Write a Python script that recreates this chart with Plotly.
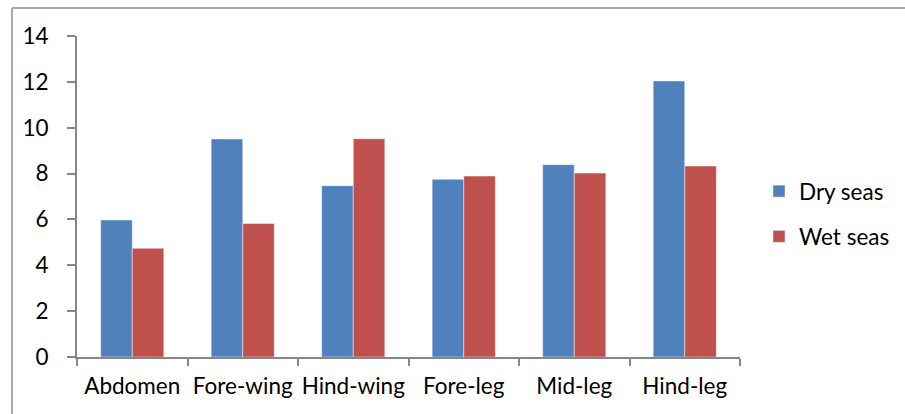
import plotly.graph_objects as go

# Body-part measurements per season
categories = ["Abdomen", "Fore-wing", "Hind-wing", "Fore-leg", "Mid-leg", "Hind-leg"]
dry_season = [5.97, 9.51, 7.47, 7.75, 8.39, 12.04]
wet_season = [4.74, 5.82, 9.52, 7.89, 8.02, 8.33]
y_ticks = [0, 2, 4, 6, 8, 10, 12, 14]

BLUE = "#4F81BD"
RED = "#C0504D"
AXIS_GREY = "#868686"
FONT = "Lato, 'Open Sans', sans-serif"
FS = 22.5

W, H = 905, 414
ML, MR, MT, MB = 77, 165, 36, 57
PW, PH = W - ML - MR, H - MT - MB


def px_to_paper_x(px):
    return (px - ML) / PW


def px_to_paper_y(py):
    return (H - MB - py) / PH


fig = go.Figure()
fig.add_trace(go.Bar(
    x=categories, y=dry_season, name="Dry seas",
    marker=dict(color=BLUE, line=dict(color="rgba(255,255,255,0.45)", width=1)),
    legendgroup="dry",
))
fig.add_trace(go.Bar(
    x=categories, y=wet_season, name="Wet seas",
    marker=dict(color=RED, line=dict(color="rgba(255,255,255,0.45)", width=1)),
    legendgroup="wet",
))

fig.update_layout(
    width=W, height=H,
    margin=dict(l=ML, r=MR, t=MT, b=MB, pad=0, autoexpand=False),
    paper_bgcolor="white", plot_bgcolor="white",
    barmode="group", bargap=1.5 / 3.5, bargroupgap=0,
    font=dict(family=FONT, size=FS, color="#000000"),
    showlegend=True,
    legend=dict(
        x=px_to_paper_x(759), xanchor="left",
        y=px_to_paper_y(170), yanchor="top",
        font=dict(family=FONT, size=FS, color="#000000"),
        traceorder="grouped", tracegroupgap=13,
        bgcolor="rgba(0,0,0,0)", borderwidth=0,
    ),
    xaxis=dict(
        type="category", showgrid=False, zeroline=False, automargin=False,
        showline=True, linecolor=AXIS_GREY, linewidth=2,
        ticks="outside", tickson="boundaries", ticklen=7,
        tickcolor=AXIS_GREY, tickwidth=2, tickangle=0,
        tickfont=dict(family=FONT, size=FS, color="#000000"),
        ticklabelstandoff=8,
    ),
    yaxis=dict(
        range=[0, 14], tickvals=y_ticks, showgrid=False, zeroline=False,
        automargin=False,
        showline=True, linecolor=AXIS_GREY, linewidth=2,
        ticks="outside", ticklen=8, tickcolor=AXIS_GREY, tickwidth=2,
        tickfont=dict(family=FONT, size=FS, color="#000000"),
        ticklabelstandoff=14,
    ),
    shapes=[
        # chart frame (left and top edges)
        dict(type="line", xref="paper", yref="paper",
             x0=px_to_paper_x(12), x1=px_to_paper_x(12),
             y0=px_to_paper_y(8), y1=px_to_paper_y(420),
             line=dict(color="#8C8C8C", width=1.5)),
        dict(type="line", xref="paper", yref="paper",
             x0=px_to_paper_x(12), x1=px_to_paper_x(910),
             y0=px_to_paper_y(8), y1=px_to_paper_y(8),
             line=dict(color="#8C8C8C", width=1.5)),
    ],
)

fig.write_html("out.html")
